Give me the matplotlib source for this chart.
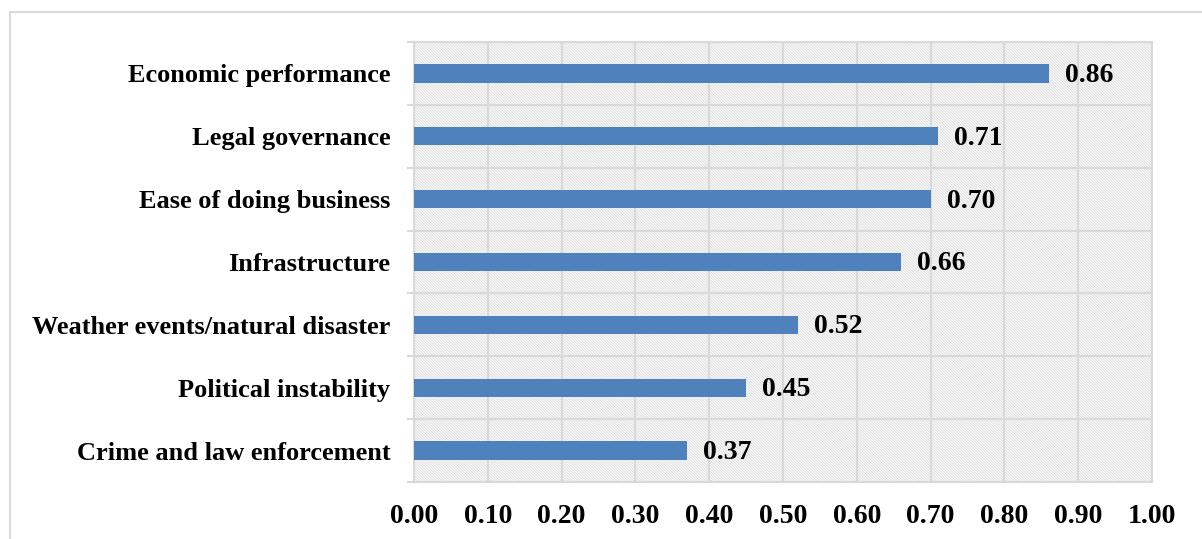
import numpy as np
import matplotlib
matplotlib.use("Agg")
import matplotlib.pyplot as plt
from matplotlib.patches import Rectangle

categories = ["Crime and law enforcement", "Political instability",
              "Weather events/natural disaster", "Infrastructure",
              "Ease of doing business", "Legal governance",
              "Economic performance"]
values = [0.37, 0.45, 0.52, 0.66, 0.70, 0.71, 0.86]
xticks = [0.0, 0.1, 0.2, 0.3, 0.4, 0.5, 0.6, 0.7, 0.8, 0.9, 1.0]

plt.rcParams['font.family'] = ['Liberation Serif', 'DejaVu Serif']
plt.rcParams['font.weight'] = 'bold'
plt.rcParams['hatch.color'] = '#E0E0E0'
plt.rcParams['hatch.linewidth'] = 0.8

fig = plt.figure(figsize=(12.02, 5.39), dpi=100, facecolor="#FFFFFF")
ax = fig.add_axes([0.3444, 0.1058, 0.614, 0.8162])

# outer chart border
fig.patches.append(Rectangle((10/1202, -0.1), 1.2, 1 - 12/539 + 0.1,
                             transform=fig.transFigure, fill=False,
                             edgecolor='#D9D9D9', linewidth=1.5))

y = np.arange(len(categories))
ax.set_xlim(0, 1.0)
ax.set_ylim(-0.5, len(categories) - 0.5)

# hatched plot area
ax.add_patch(Rectangle((0, 0), 1, 1, transform=ax.transAxes,
                       facecolor='white', edgecolor='#E0E0E0',
                       hatch='\\' * 12, linewidth=0, zorder=0))

ax.barh(y, values, height=0.29, color='#4F81BD', zorder=3)

for yi, v in zip(y, values):
    ax.text(v + 0.022, yi - 0.03, f"{v:.2f}", va='center', ha='left',
            fontsize=20, fontweight='bold', zorder=4)

ax.set_xticks(xticks)
ax.set_xticklabels([f"{t:.2f}" for t in xticks], fontsize=20, fontweight='bold')
ax.set_yticks(y)
ax.set_yticklabels(categories, fontsize=19, fontweight='bold')
ax.set_yticks(np.arange(-0.5, len(categories)), minor=True)

ax.tick_params(axis='y', which='major', length=0, pad=17)
ax.tick_params(axis='y', which='minor', length=5, color='#D9D9D9', width=1.5)
ax.tick_params(axis='x', which='major', length=0, pad=16)

ax.grid(True, axis='x', which='major', color='#D9D9D9', linewidth=1.5, zorder=1)
ax.grid(True, axis='y', which='minor', color='#D9D9D9', linewidth=1.5, zorder=1)
ax.set_axisbelow(True)

for s in ax.spines.values():
    s.set_color('#D9D9D9')
    s.set_linewidth(1.5)

fig.savefig("out.png", dpi=100, facecolor="#FFFFFF")
